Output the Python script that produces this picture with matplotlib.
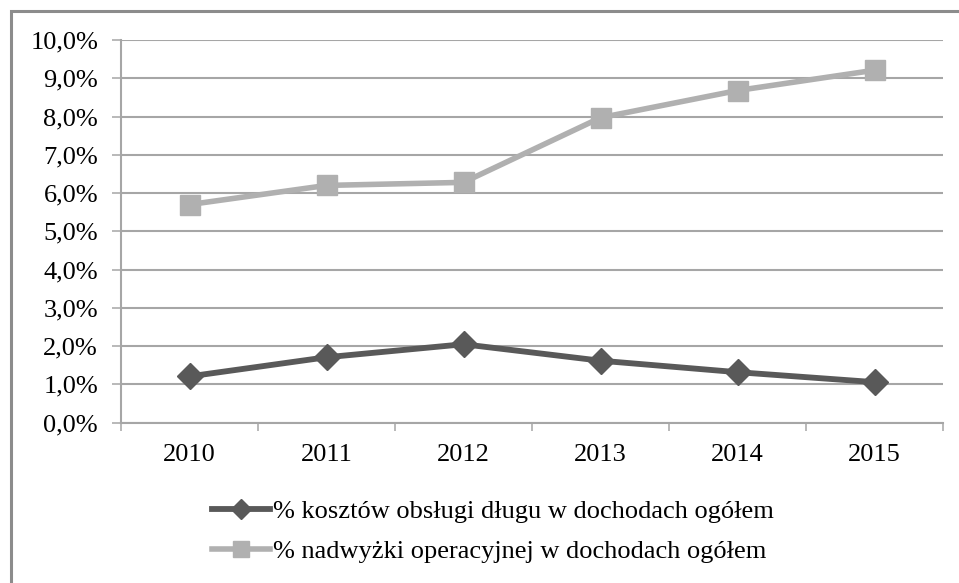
import matplotlib
matplotlib.use("Agg")
import matplotlib.pyplot as plt
from matplotlib.patches import Rectangle
from matplotlib.ticker import FuncFormatter, MultipleLocator

years = ["2010", "2011", "2012", "2013", "2014", "2015"]
debt_cost_share = [1.21, 1.71, 2.05, 1.62, 1.32, 1.06]
operating_surplus_share = [5.70, 6.20, 6.28, 7.97, 8.68, 9.21]
series_labels = [
    "% kosztów obsługi długu w dochodach ogółem",
    "% nadwyżki operacyjnej w dochodach ogółem",
]

plt.rcParams["font.family"] = ["Liberation Serif", "DejaVu Serif"]

W, H = 959, 583
fig = plt.figure(figsize=(W / 100, H / 100), dpi=100)

# outer chart frame
fig.patches.append(Rectangle((11 / W, -0.05), 1.1, 1 - 11 / H + 0.05,
                             transform=fig.transFigure, fill=False,
                             edgecolor="#8c8c8c", linewidth=2.2))

ax = fig.add_axes([121 / W, 1 - 422.7 / H, (943 - 121) / W, (422.7 - 40) / H])
x = list(range(len(years)))

dark = "#595959"
light = "#b0b0b0"
l1, = ax.plot(x, debt_cost_share, color=dark, lw=4.2, marker="D",
              markersize=13, zorder=4)
l2, = ax.plot(x, operating_surplus_share, color=light, lw=4.0, marker="s",
              markersize=15, zorder=3)

ax.set_xlim(-0.5, len(years) - 0.5)
ax.set_ylim(0, 10)
ax.yaxis.set_major_locator(MultipleLocator(1))
ax.yaxis.set_major_formatter(FuncFormatter(lambda v, p: f"{v:.1f}%".replace(".", ",")))
ax.set_xticks(x)
ax.set_xticklabels(years)
ax.set_xticks([i - 0.5 for i in range(len(years) + 1)], minor=True)

grid_c = "#a6a6a6"
ax.grid(axis="y", color=grid_c, lw=1.5)
ax.set_axisbelow(True)
for s in ("top", "right"):
    ax.spines[s].set_visible(False)
for s in ("left", "bottom"):
    ax.spines[s].set_color(grid_c)
    ax.spines[s].set_linewidth(1.5)

fs = 19
ax.tick_params(axis="y", length=6.5, width=1.1, color=grid_c, pad=10, labelsize=fs)
ax.tick_params(axis="x", which="major", length=0, pad=15, labelsize=fs)
ax.tick_params(axis="x", which="minor", length=5.5, width=1.1, color=grid_c)

fig.legend([l1, l2], series_labels, loc="upper left",
           bbox_to_anchor=(212 / W, 1 - 500 / H), frameon=False,
           fontsize=fs, handlelength=2.2, handletextpad=0.1,
           borderpad=0, borderaxespad=0, labelspacing=0.62,
           markerscale=0.75)

fig.savefig("out.png", dpi=100)
